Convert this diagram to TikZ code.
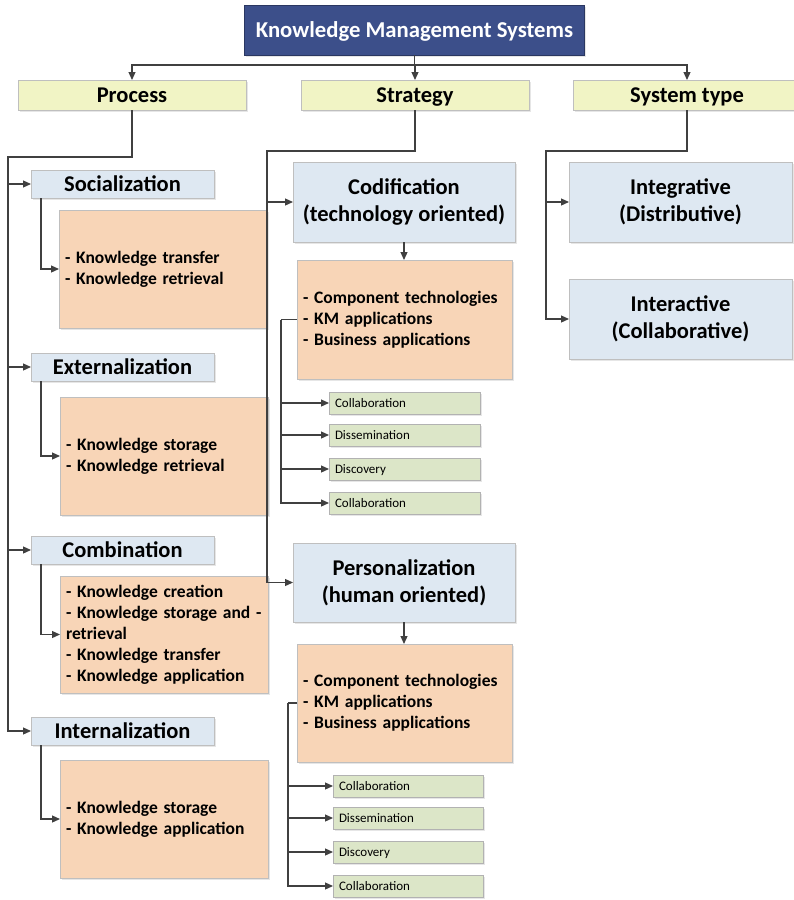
\documentclass[tikz,border=0pt]{standalone}
\usepackage{fontspec}
\setmainfont{Carlito}
\usetikzlibrary{arrows.meta,shadows}
\definecolor{titleblue}{HTML}{3C4F8A}
\definecolor{ylw}{HTML}{F1F4C5}
\definecolor{ltblue}{HTML}{DEE8F2}
\definecolor{orng}{HTML}{F8D5B7}
\definecolor{grn}{HTML}{DCE6C8}
\definecolor{lnc}{HTML}{404040}
\tikzset{
  base/.style={rectangle, inner sep=0pt, outer sep=0pt, drop shadow={opacity=0.2, shadow xshift=1.5pt, shadow yshift=-1.5pt}},
  titlebox/.style={base, fill=titleblue, draw=titleblue!70!black, text=white, font=\fontsize{22.7}{26}\selectfont\bfseries, text height=14.6pt, text depth=0pt},
  ybox/.style={base, fill=ylw, draw=black!25, font=\fontsize{22.5}{26}\selectfont\bfseries, text height=14.5pt, text depth=0pt},
  bbox/.style={base, fill=ltblue, draw=black!25, font=\fontsize{22.5}{27}\selectfont\bfseries, align=center},
  sbox/.style={bbox, text height=14.5pt, text depth=0pt},
  obox/.style={base, fill=orng, draw=black!25, font=\fontsize{17.5}{21}\selectfont\bfseries, align=left, inner xsep=6pt},
  gbox/.style={base, fill=grn, draw=black!30, font=\fontsize{13}{15}\selectfont, align=left, inner xsep=6pt, anchor=west, text height=8.4pt, text depth=0pt},
  ln/.style={draw=lnc, line width=1.2pt},
  arr/.style={ln, -{Triangle[length=8pt,width=7pt]}},
}
\begin{document}
\begin{tikzpicture}[x=1pt,y=-1pt]
\useasboundingbox (0,0) rectangle (794,900);
\clip (0,0) rectangle (794,900);
% title
\node[titlebox, minimum width=340pt, minimum height=50pt] (title) at (414.5,30) {Knowledge Management Systems};
% level 1
\node[ybox, minimum width=228pt, minimum height=30pt] (proc) at (132,95) {Process};
\node[ybox, minimum width=228pt, minimum height=30pt] (strat) at (415,95) {Strategy};
\node[ybox, minimum width=228pt, minimum height=30pt] (sys) at (687,95) {System type};
% process column
\node[sbox, minimum width=183pt, minimum height=28pt] (soc) at (122.5,184) {Socialization};
\node[sbox, minimum width=183pt, minimum height=28pt] (ext) at (122.5,367) {Externalization};
\node[sbox, minimum width=183pt, minimum height=28pt] (com) at (122.5,550) {Combination};
\node[sbox, minimum width=183pt, minimum height=28pt] (int) at (122.5,731) {Internalization};
\node[obox, text width=196pt, minimum height=118pt] (s1) at (163,269) {- Knowledge transfer\\- Knowledge retrieval};
\node[obox, text width=196pt, minimum height=118pt] (s2) at (164,456) {- Knowledge storage\\- Knowledge retrieval};
\node[obox, text width=196pt, minimum height=117pt] (s3) at (164,634.5) {- Knowledge creation\\- Knowledge storage and -\\retrieval\\- Knowledge transfer\\- Knowledge application};
\node[obox, text width=196pt, minimum height=118pt] (s4) at (164,819) {- Knowledge storage\\- Knowledge application};
% strategy column
\node[bbox, minimum width=222pt, minimum height=80pt] (cod) at (404,202) {Codification\\(technology oriented)};
\node[obox, text width=203pt, minimum height=119pt] (bc) at (404.5,319.5) {- Component technologies\\- KM applications\\- Business applications};
\node[gbox, text width=139pt, minimum height=22pt] (c1) at (329,403) {Collaboration};
\node[gbox, text width=139pt, minimum height=22pt] (c2) at (329,435) {Dissemination};
\node[gbox, text width=139pt, minimum height=22pt] (c3) at (329,469) {Discovery};
\node[gbox, text width=139pt, minimum height=22pt] (c4) at (329,503) {Collaboration};
\node[bbox, minimum width=222pt, minimum height=79pt] (pers) at (404,582.5) {Personalization\\(human oriented)};
\node[obox, text width=203pt, minimum height=118pt] (bp) at (404.5,703) {- Component technologies\\- KM applications\\- Business applications};
\node[gbox, text width=138pt, minimum height=22pt] (p1) at (333,786) {Collaboration};
\node[gbox, text width=138pt, minimum height=22pt] (p2) at (333,818) {Dissemination};
\node[gbox, text width=138pt, minimum height=22pt] (p3) at (333,852) {Discovery};
\node[gbox, text width=138pt, minimum height=22pt] (p4) at (333,886) {Collaboration};
% system type column
\node[bbox, minimum width=223pt, minimum height=80pt] (integ) at (680.5,202) {Integrative\\(Distributive)};
\node[bbox, minimum width=223pt, minimum height=80pt] (inter) at (680.5,319) {Interactive\\(Collaborative)};
% connectors
\coordinate (tj) at (414.5,65);
\draw[ln] (title.south) -- (tj);
\draw[arr] (tj) -| (proc.north);
\draw[arr] (tj) -| (sys.north);
\draw[arr] (tj) -| (strat.north);
\coordinate (pl) at (8,157);
\draw[arr] (proc.south) |- (pl) |- (soc.west);
\draw[arr] (pl) |- (ext.west);
\draw[arr] (pl) |- (com.west);
\draw[arr] (pl) |- (int.west);
\draw[arr] ([xshift=10pt]soc.south west) |- (s1.west);
\draw[arr] ([xshift=10pt]ext.south west) |- (s2.west);
\draw[arr] ([xshift=10pt]com.south west) |- (s3.west);
\draw[arr] ([xshift=10pt]int.south west) |- (s4.west);
\coordinate (sl) at (267,151);
\draw[arr] (strat.south) |- (sl) |- (cod.west);
\draw[arr] (sl) |- (pers.west);
\draw[arr] (cod.south) -- (cod.south |- bc.north);
\draw[arr] (pers.south) -- (pers.south |- bp.north);
\coordinate (cl) at (281,319.5);
\draw[ln] (bc.west) -- (cl);
\draw[arr] (cl) |- (c1.west);
\draw[arr] (cl) |- (c2.west);
\draw[arr] (cl) |- (c3.west);
\draw[arr] (cl) |- (c4.west);
\coordinate (ql) at (288,703);
\draw[ln] (bp.west) -- (ql);
\draw[arr] (ql) |- (p1.west);
\draw[arr] (ql) |- (p2.west);
\draw[arr] (ql) |- (p3.west);
\draw[arr] (ql) |- (p4.west);
\coordinate (tl) at (546,151);
\draw[arr] (sys.south) |- (tl) |- (integ.west);
\draw[arr] (tl) |- (inter.west);
\end{tikzpicture}
\end{document}
